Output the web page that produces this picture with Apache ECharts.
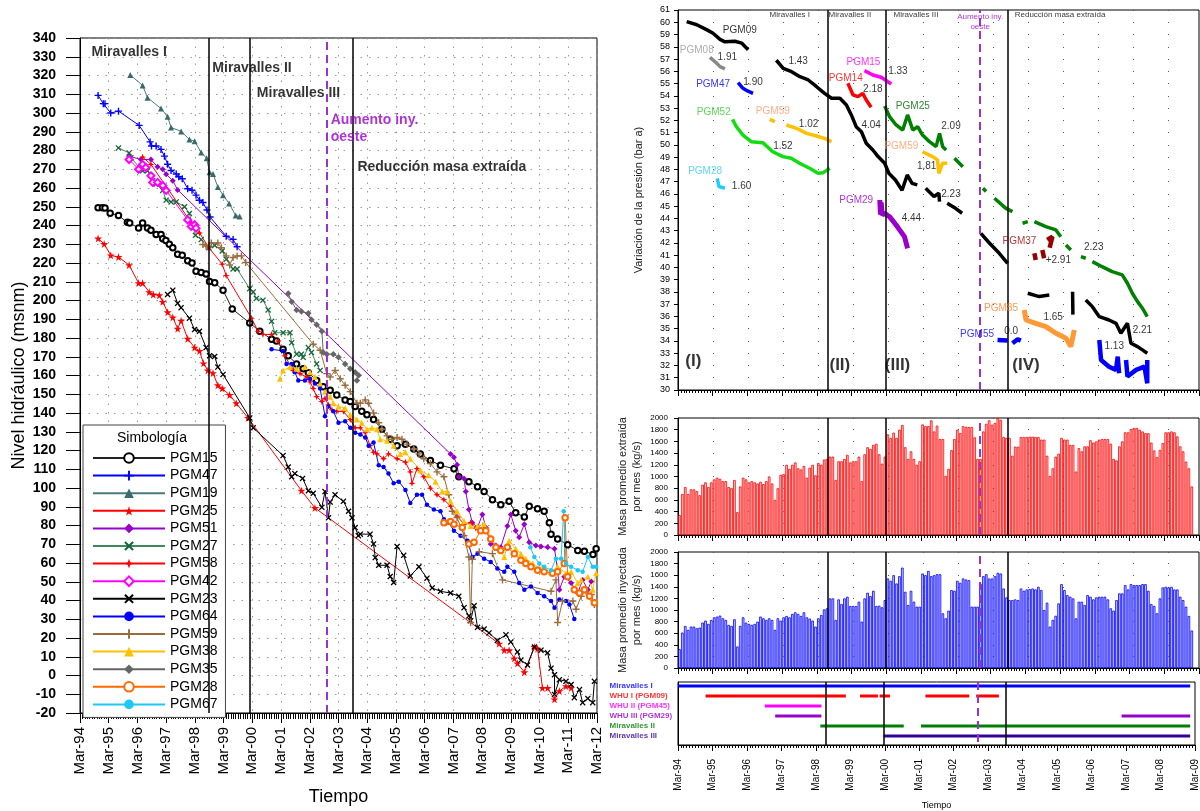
<!DOCTYPE html>
<html><head><meta charset="utf-8">
<script src="https://cdn.jsdelivr.net/npm/echarts@6/dist/echarts.min.js"></script>
<style>html,body{margin:0;background:#fff}#c{width:1200px;height:811px}</style>
</head><body><div id="c"></div>
<script>
// ---------- LEFT CHART DATA : [years since Mar-94, nivel msnm] ----------
const PGM15 = [[0.63,249.5],[0.78,249.5],[0.87,249.3],[1.05,246.6],[1.34,245.3],[1.65,241.7],[1.73,241.3],[2.04,238.7],[2.18,241.3],[2.35,238.7],[2.47,237.5],[2.65,235.2],[2.82,235.2],[2.88,233],[2.99,232],[3.11,230],[3.23,228.2],[3.4,224.7],[3.56,224.2],[3.75,221.2],[3.9,220],[4.04,215.6],[4.22,215],[4.39,214.2],[4.51,210.2],[4.69,209.5],[4.98,205.5],[5.3,195.5],[5.91,188],[6.26,183.6],[6.67,179.3],[6.84,178.4],[7.07,174],[7.25,170.5],[7.54,166.2],[7.77,163.6],[7.95,161.5],[8.24,157.4],[8.47,154],[8.71,152.2],[8.94,149.6],[9.23,147],[9.41,146.1],[9.58,143.5],[9.81,140.9],[9.99,139.1],[10.22,136.5],[10.51,131.3],[10.8,126],[11.04,122.6],[11.33,123.4],[11.62,120.8],[11.85,118.2],[12.2,114.7],[12.55,112.1],[13.02,110.3],[13.19,106],[13.54,103.4],[13.84,100.7],[14.07,98.1],[14.36,93.8],[14.65,91.1],[14.94,92.9],[15.17,86.8],[15.47,84.5],[15.64,90.3],[15.93,89],[16.16,87.6],[16.34,81.5],[16.4,75.4],[16.63,72.8],[16.98,69.8],[17.33,66.7],[17.56,66.3],[17.86,64.6],[17.97,67.6]];
const PGM47 = [[0.63,309.4],[0.81,305],[0.87,305],[1.07,300],[1.34,301],[2.06,293.4],[2.44,284.6],[2.49,282.4],[2.65,282.4],[2.82,280.6],[2.94,277],[3.05,272.7],[3.17,269.3],[3.35,267.5],[3.44,266],[3.56,264.9],[3.75,259.6],[3.9,258.8],[4.04,256.2],[4.16,253.5],[4.28,252.3],[4.42,248.3],[4.53,244.5],[5.09,234.3],[5.33,232.6],[5.47,228.7]];
const PGM19 = [[1.75,320.3],[2.18,314.7],[2.35,308.2],[2.82,302.4],[3.05,298],[3.17,292.3],[3.52,290.2],[3.81,285.9],[3.99,285],[4.22,278.9],[4.41,275.9],[4.51,268.4],[4.63,267.5],[4.8,260.5],[4.98,256.2],[5.19,251.8],[5.42,245.3],[5.56,244.8]];
const PGM25 = [[0.63,233.1],[0.84,230.2],[1.07,224.1],[1.34,223.2],[1.71,218.9],[2.04,209.3],[2.18,209.3],[2.41,204.5],[2.55,203.2],[2.76,202.8],[2.88,199.3],[3.05,193.8],[3.23,191],[3.4,185],[3.52,189.2],[3.75,179.6],[3.99,174.9],[4.16,173.1],[4.3,166.5],[4.45,162.7],[4.63,161.3],[4.8,154.8],[4.95,153.1],[5.21,149.6],[5.44,145.2],[5.85,137.4],[7.71,98.6],[8.18,89.4],[14.59,17],[14.77,13.5],[14.94,13.5],[15.12,9.1],[15.23,6.5],[15.47,1.8],[15.82,15.2],[15.93,14.3],[16.1,-6.6],[16.28,-6.6],[16.52,-12.7],[16.69,-8.3],[16.92,-5.7],[17.1,-6.6]];
const PGM51 = [[1.71,277],[2.12,275.2],[2.47,275.2],[2.7,271.3],[2.88,270],[3,267.4],[3.23,263.9],[3.4,259],[12.9,118.2],[13.02,116.4],[13.13,112.4],[13.19,106],[13.37,105.1],[13.43,98.1],[13.54,88.5],[13.66,81.5],[13.84,78.9],[14.01,85.9],[14.13,78.9],[14.3,70.2],[14.48,69.3],[14.65,68.4],[14.88,79.8],[15,85.9],[15.17,77.2],[15.29,73.7],[15.47,80.7],[15.64,71.1],[15.87,69.3],[16.05,68.8],[16.28,68.4],[16.52,67.6],[16.63,56.2],[16.69,45.8],[16.86,52.7],[17.1,49.3],[17.33,44],[17.5,51],[17.68,45.8],[17.8,50.1]];
const PGM27 = [[1.34,281.4],[1.71,278.7],[1.77,276.1],[2.18,269.2],[2.35,269.2],[2.53,263.9],[2.65,262.1],[2.88,258.7],[3,253.5],[3.17,252.6],[3.35,252.6],[3.64,250],[3.81,246.4],[4.02,234.8],[4.22,232.5],[4.49,228.1],[4.69,229.4],[4.95,226.4],[5.09,222],[5.33,216.8],[5.47,216.8],[5.91,206.3],[6.03,204.6],[6.14,201.1],[6.37,200.2],[6.55,195],[6.67,188.9],[6.78,182.8],[7.07,182.8],[7.31,182.8],[7.37,177.5],[7.54,171.4],[7.71,171.4],[7.77,169.7],[7.95,174.9],[8.06,172.3],[8.24,166.2],[8.36,162.7]];
const PGM58 = [[2.18,276.5],[2.47,272.6],[3.87,241.6],[4.16,236],[4.49,228.1],[4.95,219.4],[5.09,213.3],[5.97,190.6],[6.2,183.6],[6.37,181.9],[6.67,181.9],[6.9,178.4],[7.13,170.5],[7.42,162.7],[7.66,161],[7.89,159.2],[8.01,156.6],[8.12,153.1],[8.24,148.7],[8.42,146.1],[8.53,147.8],[8.65,144.3],[8.77,141.7],[8.94,140.9],[9.17,140.9],[9.41,136.5],[9.58,132.1],[9.76,132.1],[9.93,129.5],[10.1,122.6],[10.22,119.1],[10.34,118.2],[10.57,115.6],[10.74,118.2],[11.04,115.6],[11.33,113.8],[11.5,108.6],[11.56,102.5],[11.73,110.3],[11.97,106],[12.2,99.9],[12.43,96.4],[12.67,93.8],[12.9,90.3],[13.13,85],[13.37,80.7],[13.6,81.5],[13.78,78.6]];
const PGM42 = [[1.71,275.2],[2.04,270],[2.18,272.6],[2.29,270.9],[2.47,266.5],[2.53,263],[2.7,263],[2.88,261.3],[3,258.7],[3.75,243],[3.87,239.5],[3.99,240.4],[4.04,238.6]];
const PGM23 = [[3.05,203.2],[3.23,205.5],[3.4,198.5],[3.52,196.2],[3.81,190.6],[3.99,184.5],[4.16,183.6],[4.39,174.9],[4.51,170.5],[4.69,170.2],[4.8,164.5],[4.98,160.6],[5.91,137.4],[6.03,132.1],[7.07,117.3],[7.25,111.2],[7.37,106],[7.48,107.7],[7.75,105.1],[7.95,98.5],[8.12,97.2],[8.42,89.7],[8.53,98.1],[8.65,84.1],[8.71,92.5],[8.88,96.4],[9.17,92.9],[9.35,87.6],[9.47,84.1],[9.58,78.9],[9.69,74.6],[9.76,75.4],[10.1,75.4],[10.22,70.2],[10.28,62.9],[10.4,58.8],[10.69,58.8],[10.8,52.8],[10.92,49.6],[11.04,68.8],[11.27,64.1],[11.5,53.1],[11.8,58],[12.08,51.9],[12.26,46.7],[12.55,44.9],[12.9,44],[13.19,42.3],[13.37,36.2],[13.54,31.8],[13.6,29.2],[13.72,37.2],[13.84,25.7],[14.07,24.8],[14.24,22.7],[14.53,18.7],[14.83,21.7],[15,17.9],[15.23,12.6],[15.35,8.2],[15.58,5.6],[15.82,15.2],[16.05,13.5],[16.28,12.1],[16.4,3.9],[16.52,0.4],[16.52,-10.1],[16.69,-2.2],[16.92,-3.1],[17.1,-4.8],[17.21,-11.8],[17.39,-7.5],[17.5,-14.5],[17.68,-12.2],[17.85,-14.5],[17.91,-3.1]];
const PGM64 = [[6.67,174],[7.07,173.1],[7.19,166.2],[7.37,166.2],[7.48,161.8],[7.6,157.4],[7.83,157.4],[8.01,158.3],[8.18,155.7],[8.36,153.1],[8.53,138.3],[8.65,143.5],[8.82,140.9],[9,134.8],[9.23,135.6],[9.41,132.1],[9.58,129.5],[9.76,128.6],[9.93,126.9],[10.05,122.6],[10.22,124.3],[10.4,112.1],[10.57,111.2],[10.74,107.7],[10.92,102.5],[11.1,103.4],[11.33,99],[11.5,92],[11.73,96.4],[11.91,96.4],[12.08,91.1],[12.32,88.5],[12.55,87.6],[12.67,83.3],[12.84,81.5],[13.02,77.2],[13.25,74.6],[13.49,71.9],[13.66,63.2],[13.84,65],[14.07,62.3],[14.3,60.6],[14.53,57.1],[14.77,55.3],[14.88,58],[15.12,55.3],[15.29,49.3],[15.47,45.8],[15.7,47.5],[15.93,44],[16.16,42.3],[16.4,39.7],[16.52,36.2],[16.69,40.5],[16.92,39.7],[17.04,37.9],[17.21,30.1]];
const PGM59 = [[4.28,229.9],[4.39,229],[4.57,230.7],[4.8,230.7],[4.92,228.1],[5.09,223.8],[5.21,218.9],[5.33,222.9],[5.47,223.8],[5.62,223.8],[5.77,220.3],[8.12,176.7],[8.36,173.5],[8.59,161],[8.71,159.2],[8.88,162.7],[9.06,158.3],[9.23,154.8],[9.41,151.4],[9.64,145.2],[9.76,145.2],[9.93,147],[10.05,145.2],[10.22,140],[10.4,134.8],[10.51,131.3],[10.69,127.8],[10.86,126],[11.04,126.9],[11.21,126],[11.39,123.4],[11.62,120.8],[11.8,118.2],[11.97,115.6],[12.2,113.1],[12.43,108.6],[12.67,106],[12.84,96.4],[12.96,87.6],[13.13,84.2],[13.37,74.6],[13.54,63.2],[13.6,28.3],[13.66,62],[13.9,66],[14.36,65],[14.71,51],[16.4,44.9],[16.57,51],[16.63,28.3],[16.8,39.7],[17.16,39.7],[17.27,35.3],[17.45,42.3],[17.62,45],[17.8,43.2],[17.91,37.9]];
const PGM38 = [[6.96,158.3],[7.07,162.7],[7.31,164.5],[7.54,163.6],[7.83,164.5],[8.01,161.8],[8.18,159.2],[8.36,155.7],[8.53,151.4],[8.71,148.7],[8.82,145.2],[9,143.5],[9.23,142.6],[9.41,139.1],[9.64,136.5],[9.81,134.8],[9.99,131.3],[10.16,132.1],[10.34,131.3],[10.45,126],[10.69,125.2],[10.92,122.6],[11.15,118.2],[11.33,119.1],[11.5,115.6],[11.85,109.5],[12.14,106.8],[12.38,103.4],[12.61,98.1],[12.78,98.1],[12.9,92.9],[13.13,87.6],[13.37,82.4],[13.6,79.8],[13.84,79.8],[14.07,80.7],[14.3,73.7],[14.53,68.4],[14.77,63.2],[14.94,71.9],[15.17,67.6],[15.35,65],[15.52,62.3],[15.76,59.7],[16.05,57.1],[16.4,55.3],[16.63,58],[16.92,54.5],[17.1,55.3],[17.33,49.3],[17.45,51],[17.68,52.7],[17.85,45.8],[17.97,54.5]];
const PGM35 = [[7.25,203.7],[7.37,199.3],[7.54,195],[7.71,194.1],[7.95,193.2],[8.06,189.7],[8.24,187.1],[8.42,183.6],[8.47,172.3],[8.59,171.4],[8.82,171.4],[9,169.7],[9.23,166.2],[9.41,163.6],[9.58,161.8],[9.7,160.1],[9.64,157.4]];
const PGM28 = [[12.67,81.5],[12.9,82.2],[13.02,80.7],[13.31,78.9],[13.54,70.2],[13.72,71.1],[13.95,77.2],[14.13,77.2],[14.3,72.8],[14.48,68.4],[14.65,66.7],[14.88,68.4],[15.12,65],[15.35,61.5],[15.52,59.7],[15.7,58],[15.93,56.2],[16.16,55.3],[16.45,54.5],[16.63,55.3],[16.86,59.7],[16.89,84.1],[16.98,52.7],[17.21,45.8],[17.39,44],[17.56,45.8],[17.74,42.3],[17.91,38.8]];
const PGM67 = [[15.68,68.4],[15.82,63.2],[15.99,59.7],[16.16,58],[16.4,56.2],[16.57,62.3],[16.75,62.3],[16.84,87.6],[16.92,59.7],[17.1,58],[17.33,56.2],[17.5,55.3],[17.68,63.2],[17.85,58],[17.97,58]];
const LEFT_EVENTS = [4.48, 5.91, 9.5];
const LEFT_DASHED = 8.59;
const LEFT_NOTES = [[0.38,332.3,'Miravalles I','#000'],[4.59,323.8,'Miravalles II','#000'],[6.14,310.5,'Miravalles III','#000'],[8.71,291.6,'Aumento iny.\noeste','#9900cc'],[9.64,270.9,'Reducción masa extraída','#000']];

// ---------- RIGHT TOP DATA : [years since Mar-94, bar a] ----------
const R_PGM09 = [[0.25,60.05],[0.54,59.8],[0.82,59.4],[1.01,59.1],[1.21,58.6],[1.35,58.4],[1.64,58.45],[1.83,58.3],[2.02,57.75],null,[2.83,56.9],[3.03,56.24],[3.27,55.97],[3.51,55.56],[3.75,55.29],[3.99,54.74],[4.22,54.2],[4.42,53.8],[4.66,53.8],[4.85,53.25],[4.99,52.44],[5.13,51.48],[5.28,51.07],[5.42,50.13],[5.61,49.58],[5.76,49.04],[5.95,48.5],[6.07,47.68],[6.26,47.13],[6.45,46.3],[6.6,47.54],[6.74,46.86],[6.89,46.73],null,[7.13,46.46],[7.37,45.78],[7.51,46.05],[7.53,45.37],null,[7.75,45.23],[7.99,44.82],[8.18,44.42],null,[8.72,42.78],[8.97,41.97],[9.25,41.15],[9.49,40.34],null,[10.07,37.89],[10.4,37.62],[10.69,37.75],null,[11.36,38.02],[11.37,36.15],null,[11.74,37.35],[11.93,36.8],[12.13,35.98],[12.41,35.71],[12.61,35.44],[12.75,34.63],[12.94,35.44],[13.04,33.81],[13.23,33.54],[13.37,33.27],[13.51,33.0]];
const R_PGM08 = [[0.92,57.14],[1.1,56.7],[1.21,56.38],[1.35,56.2]];
const R_PGM47 = [[1.73,55.07],[1.87,54.61],[2.0,54.4],[2.16,54.2]];
const R_PGM52 = [[1.57,52.08],[1.68,51.48],[1.87,50.8],[2.11,50.26],[2.44,50.18],[2.73,49.44],[3.02,49.04],[3.26,48.9],[3.5,48.5],[3.79,48.09],[4.03,47.68],[4.18,47.73],[4.37,48.09]];
const R_PGM28 = [[1.13,47.27],[1.18,46.6],[1.21,46.59],[1.35,46.46]];
const R_PGM59 = [[2.64,52.08],[2.79,51.89],null,[3.12,51.62],[3.41,51.35],[3.7,50.94],[3.99,50.72],[4.22,50.53],[4.42,50.26],null,[7.04,49.44],[7.33,49.04],[7.47,48.77],[7.51,47.68],[7.62,48.5],[7.75,48.5]];
const R_PGM15 = [[5.37,56.05],[5.61,55.7],[5.85,55.51],[6.14,54.96]];
const R_PGM14 = [[4.89,55.02],[5.04,54.07],[5.18,53.93],[5.32,54.2],[5.42,53.66],[5.56,53.06]];
const R_PGM25 = [[5.95,53.17],[6.09,52.3],[6.28,51.62],[6.47,51.21],[6.61,52.44],[6.76,51.21],[6.9,51.48],[7.04,50.8],[7.24,50.26],[7.43,49.85],[7.53,50.94],[7.62,49.85],[7.72,49.58],null,[7.96,48.9],[8.2,48.22],null,[8.78,46.46],[8.87,46.19],null,[9.11,45.64],[9.44,44.82],[9.63,44.55],null,[9.92,43.6],[10.07,43.73],null,[10.26,43.73],[10.59,43.33],[10.88,43.06],[11.02,42.51],null,[11.17,41.83],[11.31,41.42],null,[11.6,40.88],[11.74,40.75],null,[11.93,40.47],[12.21,40.06],[12.5,39.66],[12.79,39.39],[12.94,38.71],[13.08,37.89],[13.23,37.21],[13.37,36.67],[13.51,35.98]];
const R_PGM29 = [[5.81,45.5],[5.83,44.3],[5.85,45.3],[5.88,44.28],[5.95,44.42],[6.09,44.14],[6.28,43.46],[6.38,43.06],[6.52,42.51],[6.61,41.56]];
const R_PGM37 = [[10.26,41.15],[10.3,40.61],null,[10.49,41.42],[10.54,40.75],null,[10.63,42.24],[10.78,42.51],[10.7,41.6]];
const R_PGM85 = [[9.97,36.53],[10.02,35.71],[10.3,35.44],[10.59,35.17],[10.88,34.63],[11.17,34.22],[11.31,33.54],[11.41,34.9]];
const R_PGM55 = [[9.2,34.08],[9.49,34.03],null,[9.63,33.81],[9.78,34.14],[9.87,34.03],null,[12.13,34.08],[12.18,32.45],[12.41,31.9],[12.61,31.64],[12.66,32.72],[12.7,31.37],null,[12.9,32.45],[12.94,31.1],[13.19,31.64],[13.43,31.91],[13.51,30.55],[13.51,32.45]];
const R_NOTES = [
 [1.78,59.37,'PGM09','#000'],[0.54,57.74,'PGM08','#999'],[1.42,57.14,'1.91','#000'],[1.01,54.94,'PGM47','#0000ff'],[2.16,55.07,'1.90','#000'],
 [3.46,56.84,'1.43','#000'],[1.03,52.65,'PGM52','#33cc33'],[2.73,52.76,'PGM59','#ff9966'],[3.76,51.7,'1.02','#000'],[3.02,49.85,'1.52','#000'],
 [0.78,47.87,'PGM28','#33ccff'],[1.83,46.59,'1.60','#000'],[5.34,56.7,'PGM15','#ff00ff'],[6.33,56.03,'1.33','#000'],[4.83,55.43,'PGM14','#ff0000'],
 [5.61,54.53,'2.18','#000'],[5.56,51.62,'4.04','#000'],[6.76,53.17,'PGM25','#006600'],[7.86,51.48,'2.09','#000'],[6.43,49.85,'PGM59','#ff9966'],
 [7.16,48.25,'1.81','#000'],[7.86,46.0,'2.23','#000'],[5.13,45.5,'PGM29','#9900cc'],[6.72,44.0,'4.44','#000'],[9.83,42.1,'PGM37','#990000'],
 [10.95,40.61,'+2.91','#000'],[11.97,41.61,'2.23','#000'],[9.3,36.67,'PGM85','#ff7f27'],[10.8,35.9,'1.65','#000'],[8.61,34.55,'PGM55','#0000ff'],
 [9.59,34.77,'0.0','#000'],[13.37,34.9,'2.21','#000'],[12.56,33.54,'1.13','#000']];
const R_PHASES = [[0.44,32.3,'(I)'],[4.66,32.04,'(II)'],[6.32,32.04,'(III)'],[10.02,32.04,'(IV)']];
const R_TOPNOTES = [[3.22,60.6,'Miravalles I','#000'],[4.95,60.6,'Miravalles II','#000'],[6.85,60.6,'Miravalles III','#000'],[8.7,60.0,'Aumento iny.\noeste','#9900cc'],[11.0,60.6,'Reducción masa extraída','#000']];
const R_EVENTS = [4.3, 5.98, 9.5];
const R_DASHED = 8.7;

// ---------- MONTHLY MASS (kg/s), month 0 = Mar-94 ----------
const EXTRACTION = [340,700,820,700,780,780,750,680,860,900,820,900,950,980,960,920,920,820,800,940,390,830,980,950,900,920,900,880,910,870,920,1000,880,600,800,1030,1040,1200,1130,1200,1240,1140,1120,1180,980,1150,1200,1020,1230,1200,1290,1300,1340,1340,940,1260,1260,1300,1370,1240,1260,1260,1340,920,1380,1500,1470,1540,1560,1380,1220,1340,1720,1660,1750,1660,1800,1880,1500,1300,
 1430,1300,1200,1260,1890,1860,1860,1960,1770,1870,1640,1640,1010,1130,1450,1640,1800,1740,1860,1850,1845,1845,1670,1300,1300,1770,1900,1960,1885,1915,2000,1970,1675,1660,1660,1355,1510,1510,1675,1675,1675,1680,1680,1675,1675,1630,1630,1355,1010,1140,1340,1390,1660,1630,1630,1540,1540,1085,1485,1430,1515,1515,1620,1580,1600,1630,1640,1640,1640,1560,1300,1275,1515,1600,1755,1755,1810,1830,1830,1800,1770,1740,1740,1580,1445,1330,1455,1570,1755,1755,1770,1755,1685,1515,1430,1255,1140,830];
const INJECTION = [325,611,725,657,714,714,685,697,783,817,760,828,874,886,903,857,828,743,725,840,371,725,874,783,760,743,760,800,886,857,828,857,828,657,857,817,874,897,874,931,960,931,897,960,874,851,817,714,857,914,1011,1029,1200,1200,828,1183,1103,1200,1229,1069,1069,1069,1143,800,1200,1297,1240,1331,1069,1074,1046,1171,1543,1503,1600,1457,1583,1731,1314,1086,
 1331,1143,1057,1057,1629,1600,1674,1583,1600,1617,1617,943,857,989,1343,1331,1503,1469,1543,1526,1514,1057,1057,1057,1450,1583,1617,1543,1543,1583,1640,1629,1371,1217,1171,1171,1183,1171,1371,1331,1354,1360,1371,1354,1400,1343,1000,1126,714,829,900,1114,1446,1343,1257,1229,1200,857,1143,1143,1086,1257,1229,1183,1217,1229,1229,1229,1183,1029,989,1171,1286,1286,1429,1354,1446,1429,1429,1429,1446,1446,1331,1103,1069,943,1200,1389,1400,1389,1400,1354,1354,1229,1171,1057,897,646];

// ---------- TIMELINE ----------
const TL_ROWS = ['Miravalles I','WHU I (PGM09)','WHU II (PGM45)','WHU III (PGM29)','Miravalles II','Miravalles III'];
const TL_COLORS = ['#0000ff','#ff0000','#ff00ff','#9900cc','#008000','#330099'];
const TL_SEGS = [[[0,14.86]],[[0.8,4.87],[5.28,5.8],[5.85,6.15],[7.18,8.45],[8.65,9.31]],[[2.52,4.16]],[[2.82,4.16],[12.87,14.86]],[[4.13,6.55],[7.05,14.86]],[[5.96,14.86]]];

// ---------- BUILD ----------
const FONT = 'Liberation Sans';
const fmtMar = v => 'Mar-' + String((94 + Math.round(v)) % 100).padStart(2, '0');
const SYM_PLUS = 'path://M4,0h2v4h4v2h-4v4h-2v-4h-4v-2h4z';
const SYM_STAR = 'path://M50,0L61,35L98,35L68,57L79,91L50,70L21,91L32,57L2,35L39,35Z';
const SYM_X = 'path://M0,1.5L1.5,0L5,3.5L8.5,0L10,1.5L6.5,5L10,8.5L8.5,10L5,6.5L1.5,10L0,8.5L3.5,5Z';
const SYM_SPARK = 'path://M5,0L6.3,3.7L10,5L6.3,6.3L5,10L3.7,6.3L0,5L3.7,3.7Z';

function ls(name, data, color, symbol, size, lineColor, extra) {
  return Object.assign({
    name, type: 'line', xAxisIndex: 0, yAxisIndex: 0, data,
    symbol, symbolSize: size, showSymbol: true,
    itemStyle: { color }, lineStyle: { color: lineColor || color, width: 1 },
    emphasis: { disabled: true }
  }, extra || {});
}
const leftSeries = [
  ls('PGM15', PGM15, '#000', 'emptyCircle', 5.5, '#222', { itemStyle: { color: '#000', borderWidth: 1.6 } }),
  ls('PGM47', PGM47, '#0000ff', SYM_PLUS, 7),
  ls('PGM19', PGM19, '#3a6b6b', 'triangle', 6, '#4a7a7a'),
  ls('PGM25', PGM25, '#ff0000', SYM_STAR, 8),
  ls('PGM51', PGM51, '#9900cc', 'diamond', 6),
  ls('PGM27', PGM27, '#17653a', SYM_X, 6, '#3f8a5a'),
  ls('PGM58', PGM58, '#ff0000', SYM_SPARK, 7),
  ls('PGM42', PGM42, '#ff00ff', 'emptyDiamond', 7, '#ff00ff', { itemStyle: { color: '#ff00ff', borderWidth: 1.5 } }),
  ls('PGM23', PGM23, '#000', SYM_X, 6),
  ls('PGM64', PGM64, '#0000ff', 'circle', 4.5),
  ls('PGM59', PGM59, '#9a6b3c', SYM_PLUS, 7),
  ls('PGM38', PGM38, '#ffc000', 'triangle', 6),
  ls('PGM35', PGM35, '#666666', 'diamond', 6.5),
  ls('PGM28', PGM28, '#ff6a00', 'emptyCircle', 5.5, '#ff6a00', { itemStyle: { color: '#ff6a00', borderWidth: 2 } }),
  ls('PGM67', PGM67, '#1cc8f5', 'circle', 4.5)
];
const legendNames = leftSeries.map(s => s.name);

function events(xi, yi, solid, dashed, dashColor) {
  return {
    type: 'line', xAxisIndex: xi, yAxisIndex: yi, data: [], silent: true,
    markLine: {
      symbol: 'none', silent: true, animation: false, label: { show: false },
      lineStyle: { color: '#000', width: 1.5, type: 'solid' },
      data: solid.map(v => ({ xAxis: v })).concat([{ xAxis: dashed, lineStyle: { color: dashColor, width: 2, type: [8, 5] } }])
    }
  };
}
function notes(xi, yi, arr, pos, font) {
  return {
    type: 'scatter', xAxisIndex: xi, yAxisIndex: yi, symbolSize: 1, silent: true,
    itemStyle: { color: 'rgba(0,0,0,0)' }, z: 20,
    data: arr.map(a => ({ value: [a[0], a[1]], label: { formatter: a[2], color: a[3] || '#000' } })),
    label: Object.assign({ show: true, position: pos, distance: 0, fontFamily: FONT }, font)
  };
}
function rl(data, color, width) {
  return { type: 'line', xAxisIndex: 1, yAxisIndex: 1, data, showSymbol: false, symbol: 'none', connectNulls: false,
    lineStyle: { color, width: width || 3.5 }, silent: true };
}
const months = arr => arr.map((v, m) => [m / 12 + 1 / 24, v]);
const tlData = [];
TL_SEGS.forEach((segs, r) => {
  const d = [];
  segs.forEach(s => { d.push([s[0], r], [s[1], r], null); });
  tlData.push({ type: 'line', xAxisIndex: 4, yAxisIndex: 4, data: d, showSymbol: false, symbol: 'none',
    lineStyle: { color: TL_COLORS[r], width: 3 }, silent: true });
});

const rightX = (gi, showLabels) => ({
  gridIndex: gi, type: 'value', min: 0, max: 15, interval: 1,
  axisLine: { show: true, onZero: false, lineStyle: { color: '#000' } },
  axisTick: { show: true, length: 6, lineStyle: { color: '#000' } },
  minorTick: { show: true, splitNumber: 12, length: 3, lineStyle: { color: '#000' } },
  splitLine: { show: false },
  axisLabel: showLabels ? { show: true, rotate: 90, formatter: fmtMar, fontSize: 10, fontFamily: FONT, color: '#000', margin: 14 } : { show: false },
  name: showLabels ? 'Tiempo' : '', nameLocation: 'middle', nameGap: 56,
  nameTextStyle: { fontSize: 9, fontFamily: FONT, color: '#000' }
});
const dotSplit = { show: true, lineStyle: { type: [1, 34], color: '#555', width: 1.2 } };
const plainNum = v => String(v);

const option = {
  animation: false,
  backgroundColor: '#fff',
  grid: [
    { left: 80, top: 38, width: 517, height: 687, show: true, borderColor: '#000', borderWidth: 1 },
    { left: 678, top: 10, width: 521, height: 380, show: true, borderColor: '#000', borderWidth: 1 },
    { left: 678, top: 418, width: 521, height: 117, show: true, borderColor: '#000', borderWidth: 1 },
    { left: 678, top: 552, width: 521, height: 116, show: true, borderColor: '#000', borderWidth: 1 },
    { left: 678, top: 682, width: 521, height: 66, show: true, borderColor: '#000', borderWidth: 1 }
  ],
  xAxis: [
    { gridIndex: 0, type: 'value', min: 0, max: 18, interval: 1,
      axisLine: { onZero: false, lineStyle: { color: '#000' } },
      axisTick: { length: 10, lineStyle: { color: '#000' } },
      minorTick: { show: true, splitNumber: 12, length: 6, lineStyle: { color: '#000' } },
      splitLine: { show: true, lineStyle: { type: [1.5, 7], color: '#999' } },
      axisLabel: { rotate: 90, formatter: fmtMar, fontSize: 15, fontFamily: FONT, color: '#000', margin: 14 },
      name: 'Tiempo', nameLocation: 'middle', nameGap: 75, nameTextStyle: { fontSize: 18, fontFamily: FONT, color: '#000' } },
    rightX(1, false), rightX(2, false), rightX(3, false), rightX(4, true)
  ],
  yAxis: [
    { gridIndex: 0, type: 'value', min: -20, max: 340, interval: 10,
      axisLine: { show: true, onZero: false, lineStyle: { color: '#000' } },
      axisTick: { show: true, length: 14, lineStyle: { color: '#000' } },
      splitLine: { show: true, lineStyle: { type: [1.5, 7], color: '#999' } },
      axisLabel: { fontSize: 14, fontWeight: 'bold', fontFamily: FONT, color: '#000', margin: 24 },
      name: 'Nivel hidráulico (msnm)', nameLocation: 'middle', nameGap: 52,
      nameTextStyle: { fontSize: 18, fontFamily: FONT, color: '#000' } },
    { gridIndex: 1, type: 'value', min: 30, max: 61, interval: 1,
      axisLine: { show: true, onZero: false, lineStyle: { color: '#000' } },
      axisTick: { show: true, length: 4, lineStyle: { color: '#000' } },
      splitLine: dotSplit,
      axisLabel: { fontSize: 9, fontFamily: FONT, color: '#000', margin: 8 },
      name: 'Variación de la presión (bar a)', nameLocation: 'middle', nameGap: 34,
      nameTextStyle: { fontSize: 11, fontFamily: FONT, color: '#222' } },
    { gridIndex: 2, type: 'value', min: 0, max: 2000, interval: 200,
      axisLine: { show: true, onZero: false, lineStyle: { color: '#000' } },
      axisTick: { show: true, length: 4, lineStyle: { color: '#000' } },
      splitLine: dotSplit,
      axisLabel: { fontSize: 8, fontFamily: FONT, color: '#000', margin: 10, formatter: plainNum },
      name: 'Masa promedio extraída\npor mes (kg/s)', nameLocation: 'middle', nameGap: 34,
      nameTextStyle: { fontSize: 11, fontFamily: FONT, color: '#222', lineHeight: 14 } },
    { gridIndex: 3, type: 'value', min: 0, max: 2000, interval: 200,
      axisLine: { show: true, onZero: false, lineStyle: { color: '#000' } },
      axisTick: { show: true, length: 4, lineStyle: { color: '#000' } },
      splitLine: dotSplit,
      axisLabel: { fontSize: 8, fontFamily: FONT, color: '#000', margin: 10, formatter: plainNum },
      name: 'Masa promedio inyectada\npor mes (kg/s)', nameLocation: 'middle', nameGap: 34,
      nameTextStyle: { fontSize: 11, fontFamily: FONT, color: '#222', lineHeight: 14 } },
    { gridIndex: 4, type: 'value', min: -0.4, max: 5.9, inverse: true,
      axisLine: { show: true, onZero: false, lineStyle: { color: '#000' } },
      axisTick: { show: false }, axisLabel: { show: false }, splitLine: { show: false } }
  ],
  legend: {
    orient: 'vertical', left: 83, top: 425, padding: [26, 8, 6, 9],
    borderColor: '#444', borderWidth: 1, backgroundColor: '#fff',
    itemWidth: 72, itemHeight: 12, itemGap: 3.6,
    textStyle: { fontSize: 14, fontFamily: FONT, color: '#000' },
    data: legendNames
  },
  graphic: [
    { type: 'text', x: 152, y: 431, z: 100, style: { text: 'Simbología', fill: '#000', font: '14px ' + FONT, textAlign: 'center' } }
  ],
  series: [
    events(0, 0, LEFT_EVENTS, LEFT_DASHED, '#9933cc'),
    ...leftSeries,
    notes(0, 0, LEFT_NOTES, 'right', { fontSize: 14, fontWeight: 'bold', lineHeight: 17 }),
    events(1, 1, R_EVENTS, R_DASHED, '#9933cc'),
    rl(R_PGM09, '#000'), rl(R_PGM08, '#888'), rl(R_PGM47, '#0000ff'), rl(R_PGM52, '#11dd11'),
    rl(R_PGM28, '#22ccff'), rl(R_PGM59, '#ffc000'), rl(R_PGM15, '#ff00ff'), rl(R_PGM14, '#ff0000'),
    rl(R_PGM25, '#008000'), rl(R_PGM29, '#9900cc', 5), rl(R_PGM37, '#990000', 4.5), rl(R_PGM85, '#ff9933', 5),
    rl(R_PGM55, '#0000ff', 4.5),
    notes(1, 1, R_NOTES, 'inside', { fontSize: 10 }),
    notes(1, 1, R_PHASES.map(a => [a[0], a[1], a[2], '#000']), 'inside', { fontSize: 17, fontWeight: 'bold' }),
    notes(1, 1, R_TOPNOTES, 'inside', { fontSize: 8, lineHeight: 10 }),
    events(2, 2, R_EVENTS, R_DASHED, '#9933cc'),
    { type: 'bar', xAxisIndex: 2, yAxisIndex: 2, data: months(EXTRACTION), barWidth: 2.6, silent: true,
      itemStyle: { color: 'rgba(255,140,140,0.45)', borderColor: '#ff0000', borderWidth: 0.8 } },
    events(3, 3, R_EVENTS, R_DASHED, '#9933cc'),
    { type: 'bar', xAxisIndex: 3, yAxisIndex: 3, data: months(INJECTION), barWidth: 2.6, silent: true,
      itemStyle: { color: 'rgba(140,140,255,0.45)', borderColor: '#0000ff', borderWidth: 0.8 } },
    events(4, 4, R_EVENTS, R_DASHED, '#9933cc'),
    ...tlData,
    { type: 'scatter', xAxisIndex: 4, yAxisIndex: 4, symbolSize: 1, silent: true, itemStyle: { color: 'rgba(0,0,0,0)' },
      data: TL_ROWS.map((n, r) => ({ value: [0, r], label: { formatter: n, color: TL_COLORS[r] } })),
      label: { show: true, position: [-68, 0], align: 'left', verticalAlign: 'middle', fontSize: 8, fontWeight: 'bold', fontFamily: FONT } }
  ]
};
const chart = echarts.init(document.getElementById('c'), null, { renderer: 'canvas' });
chart.setOption(option);
</script></body></html>
